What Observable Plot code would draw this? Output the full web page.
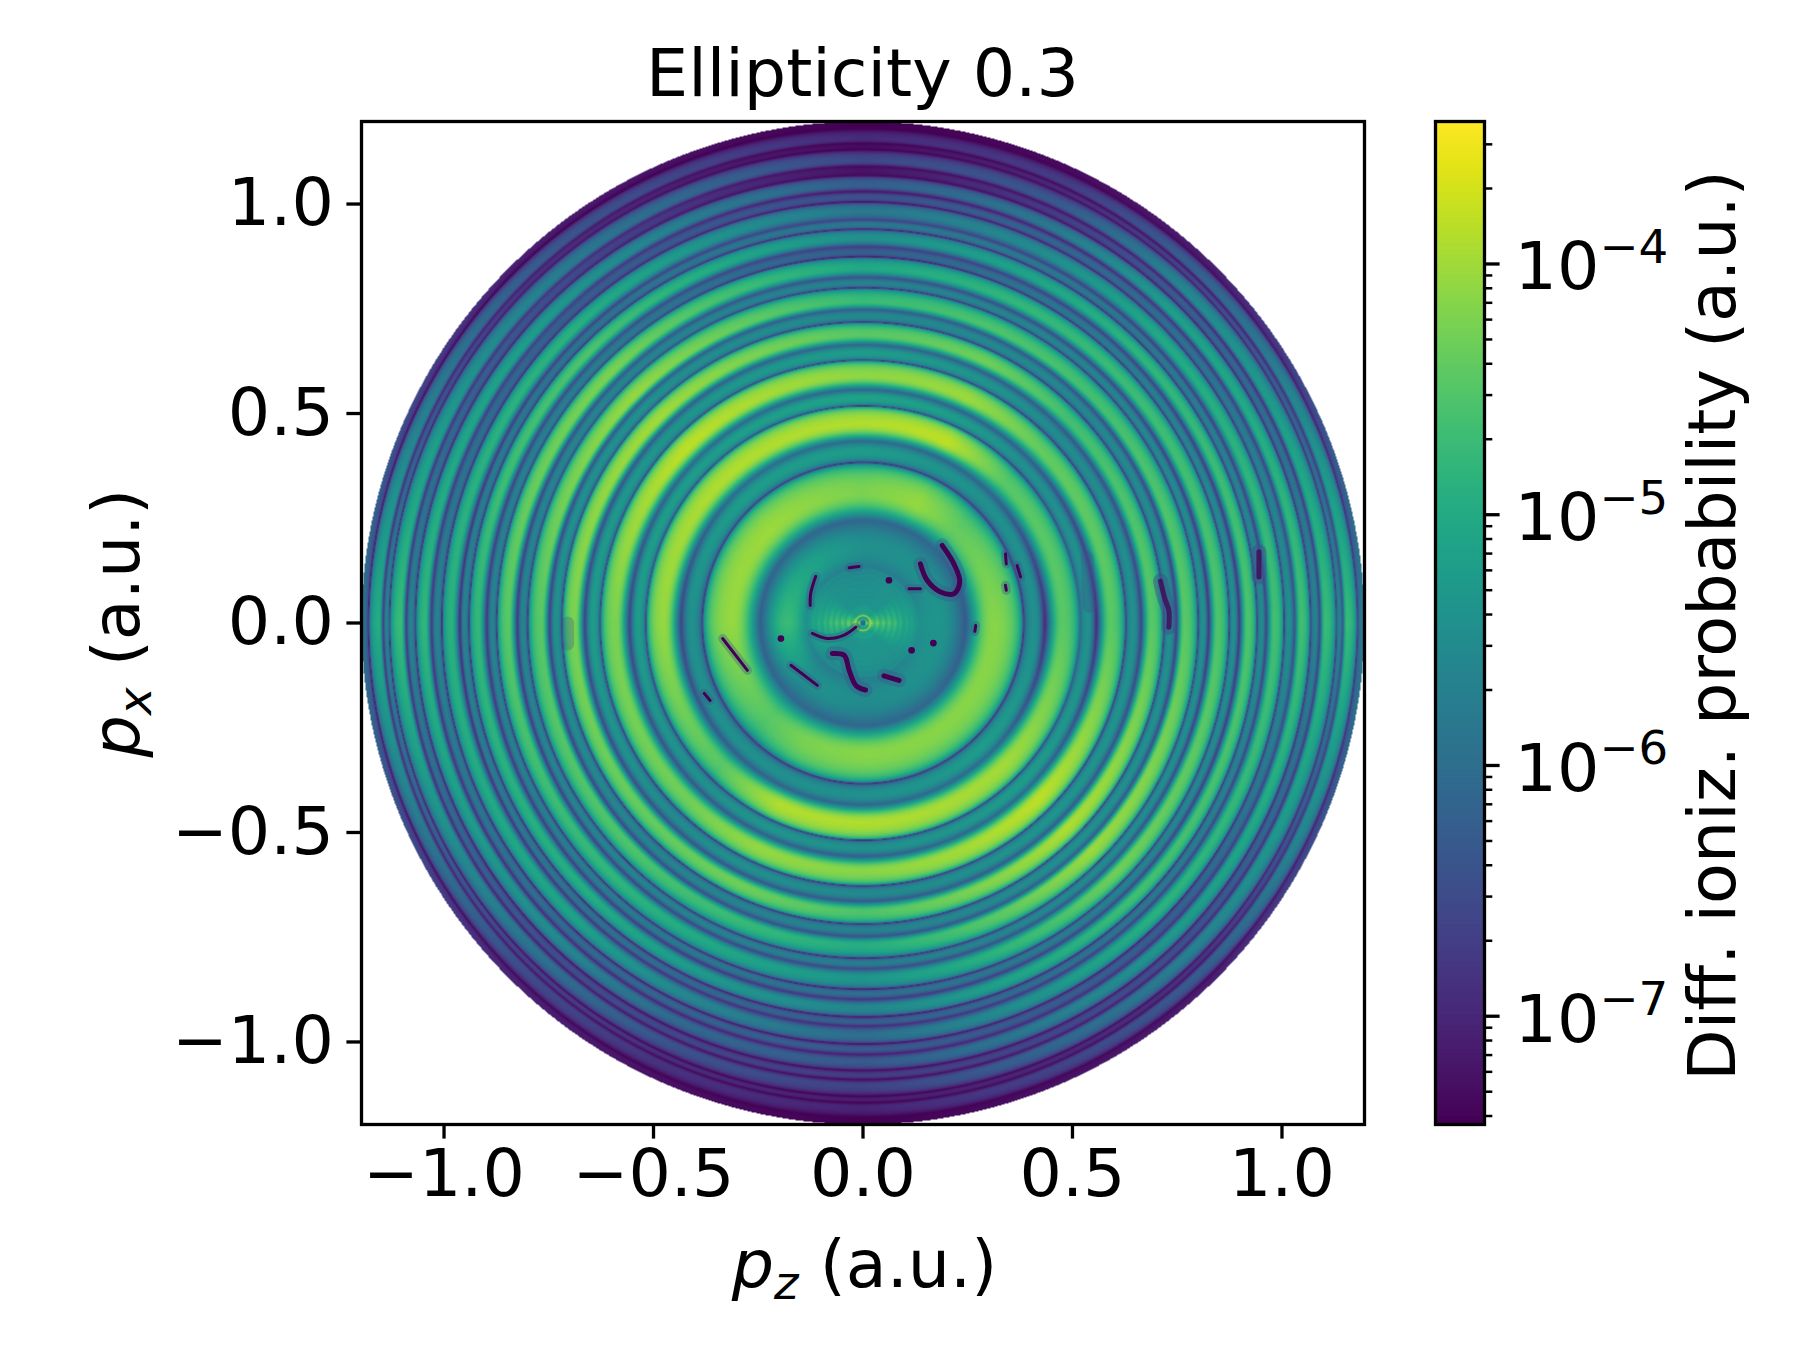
<!DOCTYPE html>
<html>
<head>
<meta charset="utf-8">
<script src="https://cdn.jsdelivr.net/npm/d3@7"></script>
<script src="https://cdn.jsdelivr.net/npm/@observablehq/plot@0.6"></script>
<style>
  body { margin: 0; background: white; }
  #fig { position: relative; width: 1800px; height: 1350px; overflow: hidden; font-family: "DejaVu Sans"; color: black; }
  #fig svg { position: absolute; left: 0; top: 0; }
  .lab { position: absolute; font-size: 66.7px; line-height: 66.7px; white-space: pre; text-align: center; }
  .lab i { font-style: oblique; }
  .lab sub { font-size: 46.7px; line-height: 0; vertical-align: -12px; font-style: oblique; }
</style>
</head>
<body>
<div id="fig">
  <div class="lab" style="left:361px;top:39.6px;width:1003px">Ellipticity 0.3</div>
  <div class="lab" style="left:363px;top:1230.6px;width:1003px"><i>p</i><sub>z</sub> (a.u.)</div>
  <div class="lab" style="left:0;top:0;width:800px;transform-origin:0 0;transform:translate(83px,1023px) rotate(-90deg)"><i>p</i><sub>x</sub> (a.u.)</div>
  <div class="lab" style="left:0;top:0;width:1003px;transform-origin:0 0;transform:translate(1678.6px,1127px) rotate(-90deg)">Diff. ioniz. probability (a.u.)</div>
</div>
<script>
// colour limits of the colorbar
const vmin = 3.7e-8
const vmax = 3.7e-4
const pMax = 1.197

// directions (deg) along which the rings were read
const directions = [0, 45, 65, 90, 135, 180, 225, 245, 270, 315]

// ring radii read along the axes (a.u.)
const innerRho = [0, .05, .10, .135, .18, .245]
const mainPeakRho = [.31, .475, .59, .688, .767, .846, .918, .982, 1.045, 1.103, 1.155]
const sidePeakRho = [.41, .537, .645, .733, .812, .885, .952, 1.017, 1.08, 1.137, 1.19]
const mainDipRho = [.383, .518, .627, .718, .80, .874, .94, 1.005, 1.068, 1.13, 1.18]
const sideDipRho = [.434, .557, .664, .748, .825, .898, .962, 1.03, 1.09, 1.145]
const edgeRho = [1.197]

// height on the colorbar (0 bottom, 1 top) for each ring, one row per direction
const inner = [
  [.8, .72, .6, .5, .52, .28],
  [.6, .5, .5, .42, .5, .33],
  [.6, .5, .5, .42, .5, .33],
  [.6, .5, .48, .42, .5, .33],
  [.6, .5, .5, .45, .58, .33],
  [.8, .72, .62, .5, .68, .3],
  [.6, .5, .5, .42, .5, .33],
  [.6, .5, .5, .42, .5, .33],
  [.6, .52, .5, .42, .48, .33],
  [.6, .52, .5, .45, .5, .33]
]
const mainPeak = [
  [.82, .74, .74, .74, .74, .72, .72, .70, .70, .68, .68],
  [.76, .74, .76, .70, .70, .68, .65, .60, .56, .47, .32],
  [.84, .90, .85, .78, .72, .66, .58, .48, .40, .28, .18],
  [.80, .88, .83, .74, .68, .60, .50, .40, .30, .22, .12],
  [.85, .88, .90, .86, .84, .80, .72, .64, .54, .44, .30],
  [.84, .84, .80, .80, .74, .74, .66, .64, .66, .68, .62],
  [.74, .74, .78, .76, .72, .66, .62, .58, .48, .38, .24],
  [.80, .88, .84, .78, .68, .60, .54, .46, .34, .26, .15],
  [.82, .88, .82, .72, .62, .52, .46, .36, .28, .20, .10],
  [.82, .86, .90, .88, .85, .78, .70, .64, .54, .44, .30]
]
const sidePeak = [
  [.50, .50, .50, .50, .50, .50, .48, .50, .45, .45, .40],
  [.50, .50, .48, .46, .45, .42, .40, .36, .30, .22, .08],
  [.52, .55, .52, .47, .45, .38, .40, .32, .18, .12, .03],
  [.55, .58, .55, .47, .44, .30, .40, .25, .05, .03, 0],
  [.55, .55, .52, .50, .45, .42, .38, .30, .25, .15, .08],
  [.50, .55, .55, .50, .45, .45, .45, .45, .45, .45, .35],
  [.50, .50, .48, .45, .45, .42, .38, .35, .25, .20, .10],
  [.50, .52, .50, .45, .44, .40, .34, .32, .22, .14, .05],
  [.50, .50, .47, .44, .42, .36, .30, .28, .18, .08, 0],
  [.55, .55, .52, .50, .48, .44, .40, .30, .25, .15, .08]
]
const mainDip = [
  [.10, .35, .12, .10, .10, .08, .10, .10, .10, .12, .12],
  [.15, .12, .10, .10, .10, .08, .08, .08, .05, .05, .03],
  [.10, .08, .08, .08, .08, .05, .05, .05, .04, .03, .01],
  [.06, .05, .05, .05, .05, .03, .03, .03, .02, 0, 0],
  [.12, .15, .15, .20, .20, .15, .12, .10, .08, .05, 0],
  [.10, .15, .10, .10, .10, .08, .05, .05, .05, .03, .03],
  [.12, .10, .08, .08, .05, .05, .05, .03, .03, .02, .02],
  [.08, .08, .06, .06, .05, .04, .04, .03, .03, .01, .01],
  [.06, .05, .05, .05, .05, .03, .03, .03, .02, 0, 0],
  [.08, .08, .08, .08, .08, .08, .05, .05, .05, .03, .03]
]
const sideDip = [
  [.12, .12, .20, .18, .15, .15, .20, .25, .20, .25],
  [.32, .30, .28, .25, .22, .20, .18, .15, .10, .05],
  [.33, .32, .30, .28, .24, .20, .20, .10, .05, .02],
  [.35, .33, .33, .30, .25, .18, .20, .05, .02, 0],
  [.35, .35, .30, .30, .28, .25, .20, .20, .15, .08],
  [.20, .20, .20, .18, .15, .15, .12, .15, .15, .15],
  [.30, .28, .25, .22, .20, .18, .15, .12, .08, .05],
  [.32, .30, .27, .24, .21, .16, .14, .10, .05, .02],
  [.33, .30, .28, .25, .22, .15, .12, .08, .02, 0],
  [.35, .35, .30, .30, .28, .22, .20, .15, .10, .05]
]
const edge = [[.45], [.1], [.03], [0], [.1], [.4], [.1], [.03], [0], [.1]]

// dark node lines inside the rings, [pz, px]
const thinTracks = [
  [[-.033, .132], [-.0095, .135]],
  [[-.113, .111], [-.125, .07], [-.126, .042]],
  [[.11, .082], [.137, .082]],
  [[-.121, -.025], [-.085, -.037], [-.045, -.029], [-.017, -.01]],
  [[-.172, -.101], [-.109, -.149]],
  [[.269, -.006], [.267, -.02]],
  [[-.335, -.037], [-.276, -.113]],
  [[-.379, -.168], [-.365, -.185]],
  [[.34, .165], [.342, .141]],
  [[.368, .137], [.376, .11]],
  [[.34, .09], [.342, .078]]
]
const thickTracks = [
  [[.137, .141], [.153, .102], [.185, .074], [.217, .07], [.231, .098], [.217, .141], [.189, .185]],
  [[.05, -.126], [.086, -.137]],
  [[-.073, -.073], [-.045, -.077], [-.033, -.113], [-.017, -.149], [.006, -.16]]
]
// blue smudges on the rings near the pz axis
const darkSmudges = [
  [[.71, .1], [.72, .06], [.73, .03], [.73, -.01]],
  [[.945, .17], [.945, .11]]
]
const paleSmudges = [
  [[.535, .157], [.54, .04]],
  [[-.705, .0], [-.705, -.05]]
]
const nodeDots = [[.062, .102], [.116, -.065], [.168, -.048], [-.196, -.037]]

// ripples around the origin (a.u.)
const rippleRho = [.014, .028, .042, .056, .07, .084, .098, .112, .126]

// colorbar ticks
const decades = [1e-4, 1e-5, 1e-6, 1e-7]
const decadeLabels = ["\u22124", "\u22125", "\u22126", "\u22127"]
const minorTicks = [3e-4, 2e-4,
  9e-5, 8e-5, 7e-5, 6e-5, 5e-5, 4e-5, 3e-5, 2e-5,
  9e-6, 8e-6, 7e-6, 6e-6, 5e-6, 4e-6, 3e-6, 2e-6,
  9e-7, 8e-7, 7e-7, 6e-7, 5e-7, 4e-7, 3e-7, 2e-7,
  9e-8, 8e-8, 7e-8, 6e-8, 5e-8, 4e-8]

// Join the rings in one table sorted by radius
const rows = (rho, table, cusp) => rho.map((r, i) => ({rho: r, h: table.map(d => d[i]), cusp}))
const knots = d3.sort([
  ...rows(innerRho, inner, false), ...rows(mainPeakRho, mainPeak, false), ...rows(sidePeakRho, sidePeak, false),
  ...rows(mainDipRho, mainDip, true), ...rows(sideDipRho, sideDip, false), ...rows(edgeRho, edge, false)
], d => d.rho)
const knotRho = knots.map(d => d.rho)

const toP = h => vmin * Math.pow(10, 4 * h)

// value of a pixel: looks the table up. Flat tops on the bands, sharp notch at the main dips
function probability(x, y) {
  const r = Math.hypot(x, y)
  if (r > pMax) return NaN
  const az = (Math.atan2(y, x) * 180 / Math.PI + 360) % 360
  const i0 = d3.bisectRight(directions, az) - 1
  const i1 = (i0 + 1) % directions.length
  const next = i1 === 0 ? 360 : directions[i1]
  const f = (az - directions[i0]) / (next - directions[i0])
  const k = Math.min(d3.bisectRight(knotRho, r) - 1, knots.length - 2)
  const a = knots[k], b = knots[k + 1]
  const ha = a.h[i0] * (1 - f) + a.h[i1] * f
  const hb = b.h[i0] * (1 - f) + b.h[i1] * f
  const w = (r - a.rho) / (b.rho - a.rho)
  if (a.cusp || b.cusp) {
    const q = a.cusp ? w : 1 - w
    const lo = toP(a.cusp ? ha : hb), hi = toP(a.cusp ? hb : ha)
    const s = Math.sin(Math.pow(q, .7) * Math.PI / 2)
    return lo + (hi - lo) * s * s
  }
  const lo = Math.min(ha, hb), hi = Math.max(ha, hb)
  const q = ha < hb ? w : 1 - w
  const c = (1 - Math.cos(Math.pow(q, .6) * Math.PI)) / 2
  return toP(lo + (hi - lo) * c)
}

const flat = tracks => tracks.flatMap((t, i) => t.map(p => ({x: p[0], y: p[1], id: i})))
const colorScale = {type: "log", scheme: "viridis", domain: [vmin, vmax]}
const axisTicks = [-1, -.5, 0, .5, 1]

let chart = Plot.plot({
  width: 1800,
  height: 1350,
  marginLeft: 361,
  marginRight: 436,
  marginTop: 121,
  marginBottom: 226,
  style: {fontFamily: "DejaVu Sans", background: "transparent", color: "black"},
  x: {domain: [-pMax, pMax]},
  y: {domain: [-pMax, pMax]},
  color: colorScale,
  r: {type: "linear", domain: [0, pMax], range: [0, 501.5]},
  marks: [
    Plot.raster({fill: probability, x1: -pMax, x2: pMax, y1: -pMax, y2: pMax, pixelSize: 1}),
    Plot.dot(rippleRho, {x: () => 0, y: () => 0, r: d => d, stroke: "#1f968b", strokeOpacity: .4, strokeWidth: 2.5}),
    Plot.dot([.018], {x: () => 0, y: () => 0, r: d => d, stroke: "#d8e219", strokeOpacity: .5, strokeWidth: 2}),
    Plot.dot([.006], {x: () => 0, y: () => 0, r: d => d, fill: "#31688e"}),
    Plot.line(flat(paleSmudges), {x: "x", y: "y", z: "id", stroke: "#3b528b", strokeOpacity: .3, strokeWidth: 13, curve: "catmull-rom"}),
    Plot.line(flat(darkSmudges), {x: "x", y: "y", z: "id", stroke: "#3b528b", strokeOpacity: .5, strokeWidth: 15, curve: "catmull-rom"}),
    Plot.line(flat(darkSmudges), {x: "x", y: "y", z: "id", stroke: "#440154", strokeOpacity: .75, strokeWidth: 5, curve: "catmull-rom"}),
    Plot.line(flat(thickTracks), {x: "x", y: "y", z: "id", stroke: "#3b528b", strokeOpacity: .35, strokeWidth: 14, curve: "catmull-rom"}),
    Plot.line(flat(thickTracks), {x: "x", y: "y", z: "id", stroke: "#440154", strokeWidth: 5, curve: "catmull-rom"}),
    Plot.line(flat(thinTracks), {x: "x", y: "y", z: "id", stroke: "#3b528b", strokeOpacity: .35, strokeWidth: 9, curve: "catmull-rom"}),
    Plot.line(flat(thinTracks), {x: "x", y: "y", z: "id", stroke: "#440154", strokeWidth: 3, curve: "catmull-rom"}),
    Plot.dot(nodeDots, {x: d => d[0], y: d => d[1], fill: "#440154", r: () => .008}),
    Plot.frame({stroke: "black", strokeWidth: 3.3}),
    Plot.axisX({ticks: axisTicks, tickSize: 14.6, tickPadding: 10, strokeWidth: 3.3, fontSize: 66.7, tickFormat: ".1f", label: null}),
    Plot.axisY({ticks: axisTicks, tickSize: 14.6, tickPadding: 13, strokeWidth: 3.3, fontSize: 66.7, tickFormat: ".1f", label: null})
  ]
})

// 256 colour steps of the colorbar
const barSteps = d3.range(256).map(i => ({
  y1: toP(i / 256),
  y2: toP((i + 1.3) / 256 > 1 ? 1 : (i + 1.3) / 256),
  v: toP((i + .5) / 256)
}))

let bar = Plot.plot({
  width: 1800,
  height: 1350,
  marginLeft: 1435,
  marginRight: 316,
  marginTop: 121,
  marginBottom: 226,
  style: {fontFamily: "DejaVu Sans", background: "transparent", color: "black"},
  x: {domain: [0, 1], axis: null},
  y: {type: "log", domain: [vmin, vmax], axis: null},
  color: colorScale,
  marks: [
    Plot.rect(barSteps, {x1: () => 0, x2: () => 1, y1: "y1", y2: "y2", fill: "v"}),
    Plot.frame({stroke: "black", strokeWidth: 3.3}),
    Plot.axisY(minorTicks, {anchor: "right", tickSize: 7.3, strokeWidth: 2.5, tickFormat: () => "", label: null}),
    Plot.axisY(decades, {anchor: "right", tickSize: 14.6, strokeWidth: 3.3, tickFormat: () => "", label: null}),
    Plot.text(decades, {y: d => d, frameAnchor: "right", dx: 30, dy: 4, text: () => "10", textAnchor: "start", fontSize: 66.7, fill: "black"}),
    Plot.text(decades, {y: d => d, frameAnchor: "right", dx: 115, dy: -16, text: (d, i) => decadeLabels[i], textAnchor: "start", fontSize: 46.7, fill: "black"})
  ]
})

// Agregamos los dos svg al div#fig
d3.select('#fig').append(() => chart)
d3.select('#fig').append(() => bar)
</script>
</body>
</html>
